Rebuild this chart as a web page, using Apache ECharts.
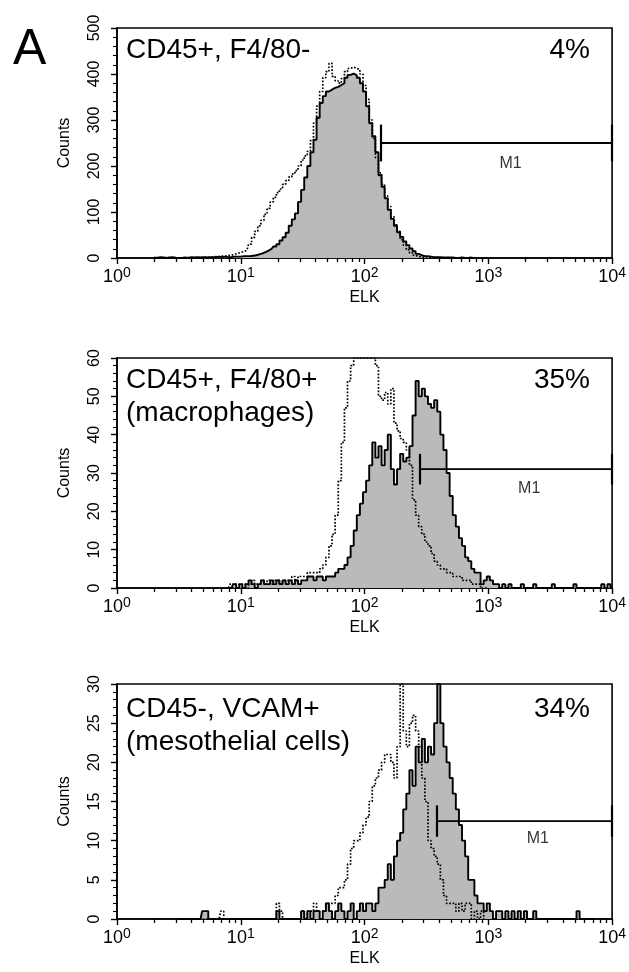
<!DOCTYPE html>
<html>
<head>
<meta charset="utf-8">
<title>ELK histograms</title>
<script src="https://cdn.jsdelivr.net/npm/echarts@6/dist/echarts.min.js"></script>
<style>
	html, body { margin: 0; padding: 0; background: #fff; }
	#chart { width: 629px; height: 972px; }
</style>
</head>
<body>
<div id="chart"></div>
<script>
// histogram bins on the log10(ELK) scale
var binWidth = 0.025;
var binStart = [0.3, 0.9, 0.5];

// panel 1: CD45+, F4/80-
var solid1 = [
	1,0,2,1,0,1,2,0,0,0,1,0,2,1,2,1,2,1,2,2,2,3,2,3,
	2,2,3,3,3,4,4,4,5,6,
	8,10,13,16,20,25,30,38,45,55,
	70,84,97,122,148,175,200,230,257,305,
	337,352,362,366,370,372,376,380,392,398,
	401,397,392,380,362,330,293,265,230,180,
	155,130,105,85,70,56,46,36,28,21,
	15,9,6,4,4,3,2,2,2,1,
	1,1,1,0,0,1,0,0,1,0
];
var dotted1 = [
	0,1,0,0,1,0,0,1,0,0,0,1,0,1,0,1,1,2,1,2,3,3,4,4,
	5,6,8,10,12,14,17,30,45,58,
	70,82,95,108,122,132,142,150,160,168,
	176,183,190,200,213,222,232,255,293,330,
	362,392,405,423,395,385,380,390,405,412,
	415,412,410,400,375,345,300,260,218,185,
	160,135,112,90,72,58,40,28,18,11,
	6,3,2,1,1,1,0,1,0,0
];

// panel 2: CD45+, F4/80+ (macrophages)
var solid2 = [
	0,0,1,0,1,0,1,2,1,0,
	1,2,1,1,2,1,2,1,2,1,
	2,1,2,1,2,2,3,3,2,3,
	3,2,3,3,3,4,5,5,6,8,
	11,15,19,22,25,28,32,38,34,37,
	32,36,40,31,27,31,35,33,34,37,
	45,54,50,52,50,48,47,49,46,40,
	36,30,24,19,16,13,11,8,7,5,
	4,4,1,2,3,2,1,1,0,1,
	0,1,0,0,0,1,0,0,0,1,
	0,0,0,0,0,1,0,0,0,0,
	0,0,1,0,0,0,0,0,0,0,
	0,1,0,1,0
];
var dotted2 = [
	0,1,0,1,0,1,0,1,2,1,
	1,2,1,2,1,2,2,1,2,2,
	2,3,2,3,3,3,4,4,4,4,
	5,6,8,11,14,19,28,38,47,54,
	58,60,60,60,60,60,60,60,58,50,
	49,51,48,52,43,41,39,38,36,32,
	23,19,16,14,12,11,9,7,6,5,
	5,4,4,3,3,3,2,2,2,1,
	1,1,0,0,0
];

// panel 3: CD45-, VCAM+ (mesothelial cells)
var solid3 = [
	0,0,0,0,0,0,0,0,1,1,
	0,0,0,0,0,0,0,0,0,0,
	0,0,0,0,0,0,0,0,0,0,
	0,0,1,0,0,0,0,0,0,0,
	1,0,1,0,1,1,0,1,2,1,
	0,1,2,1,0,1,2,0,1,2,
	1,2,2,1,2,4,4,5,7,5,
	8,10,11,14,16,19,17,22,20,23,
	20,22,21,25,30,25,22,20,18,16,
	14,12,10,8,5,5,3,2,2,1,
	2,1,0,1,1,0,1,0,1,0,
	1,0,1,0,0,1,0,0,0,0,
	0,0,0,0,0,0,0,0,0,1,
	0,0,0,0,0
];
var dotted3 = [
	0,0,0,0,0,0,0,0,0,0,
	0,0,0,0,1,0,0,0,0,0,
	0,0,0,0,0,0,0,0,0,0,
	0,0,2,1,0,0,0,0,0,0,
	1,0,1,1,2,1,1,1,2,2,
	2,3,4,4,5,7,9,10,10,11,
	12,13,15,17,18,19,20,21,21,20,
	18,22,30,24,22,25,26,24,22,18,
	15,10,9,8,7,5,3,2,2,2,
	1,2,1,2,2,0,1,0,1,0
];

var solidData = [solid1, solid2, solid3];
var dottedData = [dotted1, dotted2, dotted3];
var panelTitles = ['CD45+, F4/80-', 'CD45+, F4/80+\n(macrophages)', 'CD45-, VCAM+\n(mesothelial cells)'];
var panelPercent = ['4%', '35%', '34%'];
var countMax = [500, 60, 30];
var countStep = [100, 10, 5];
// M1 gate: start (log10), level (counts), label position
var gateStart = [2.13, 2.45, 2.58];
var gateLevel = [250, 31, 12.5];
var m1LabelX = [3.18, 3.33, 3.40];
var m1LabelY = [205, 26, 10.3];

// layout
var gridTop = [28, 358, 684];
var gridHeight = [230, 230, 235];
var titleTop = [29, 359, 688];
var barHalf = [40, 4, 2];
var font = "'Liberation Sans', Arial, sans-serif";

// minor ticks at 2..9 of each decade
var minorTicks = [];
for (var d = 0; d < 4; d++) {
	for (var k = 2; k <= 9; k++) minorTicks.push(d + Math.log10(k));
}

function hist(start, counts) {
	return counts.map(function (c, i) { return [start + i * binWidth, c]; });
}

var grids = [], xAxes = [], yAxes = [], series = [], titles = [];

titles.push({ text: 'A', left: 8, top: 20, textStyle: { fontSize: 50, fontWeight: 'normal', color: '#000', fontFamily: font } });

for (var p = 0; p < 3; p++) {
	grids.push({
		left: 117, width: 496, top: gridTop[p], height: gridHeight[p],
		show: true, borderColor: '#000', borderWidth: 1.6, backgroundColor: 'transparent'
	});
	xAxes.push({
		type: 'value', gridIndex: p, min: 0, max: 4, interval: 1, position: 'bottom',
		name: 'ELK', nameLocation: 'middle', nameGap: 32,
		nameTextStyle: { fontSize: 16, color: '#000', fontFamily: font },
		axisLine: { show: true, lineStyle: { color: '#000', width: 1.6 } },
		axisTick: { show: true, length: 6, lineStyle: { color: '#000', width: 1.4 } },
		splitLine: { show: false },
		axisLabel: {
			margin: 8, color: '#000',
			formatter: function (v) { return '{b|10}{s|' + v + '}'; },
			rich: {
				b: { fontSize: 18, lineHeight: 22, fontFamily: font, color: '#000' },
				s: { fontSize: 14, lineHeight: 10, verticalAlign: 'top', fontFamily: font, color: '#000' }
			}
		}
	});
	xAxes.push({
		type: 'value', gridIndex: p, min: 0, max: 4, position: 'bottom',
		axisLine: { show: false },
		axisLabel: { show: false },
		splitLine: { show: false },
		axisTick: { show: true, customValues: minorTicks, length: 4, lineStyle: { color: '#000', width: 1.3 } }
	});
	yAxes.push({
		type: 'value', gridIndex: p, min: 0, max: countMax[p], interval: countStep[p],
		name: 'Counts', nameLocation: 'middle', nameRotate: 90, nameGap: 44,
		nameTextStyle: { fontSize: 16, color: '#000', fontFamily: font },
		axisLine: { show: true, lineStyle: { color: '#000', width: 1.6 } },
		axisTick: { show: true, length: 6, lineStyle: { color: '#000', width: 1.4 } },
		minorTick: { show: true, splitNumber: 5, length: 4, lineStyle: { color: '#000', width: 1.1 } },
		splitLine: { show: false },
		axisLabel: { rotate: 90, margin: 14, fontSize: 16, color: '#000', fontFamily: font }
	});

	series.push({
		type: 'line', xAxisIndex: 2 * p, yAxisIndex: p, step: 'middle', symbol: 'none',
		data: hist(binStart[p], solidData[p]),
		lineStyle: { color: '#000', width: 1.9 },
		areaStyle: { color: '#bababa', opacity: 1 },
		z: 2
	});
	series.push({
		type: 'line', xAxisIndex: 2 * p, yAxisIndex: p, step: 'middle', symbol: 'none',
		data: hist(binStart[p], dottedData[p]),
		lineStyle: { color: '#000', width: 1.7, type: [1.7, 1.7] },
		z: 3
	});
	var hb = barHalf[p];
	series.push({
		type: 'line', xAxisIndex: 2 * p, yAxisIndex: p, symbol: 'none',
		data: [[gateStart[p], gateLevel[p]], [4, gateLevel[p]]],
		lineStyle: { color: '#000', width: 1.8 },
		z: 4,
		markLine: {
			silent: true, symbol: ['none', 'none'], label: { show: false },
			lineStyle: { color: '#000', width: 2.2, type: 'solid' },
			data: [
				[{ coord: [gateStart[p], gateLevel[p] - hb] }, { coord: [gateStart[p], gateLevel[p] + hb] }],
				[{ coord: [4, gateLevel[p] - hb] }, { coord: [4, gateLevel[p] + hb] }]
			]
		}
	});
	series.push({
		type: 'scatter', xAxisIndex: 2 * p, yAxisIndex: p, symbolSize: 0,
		data: [[m1LabelX[p], m1LabelY[p]]],
		label: { show: true, position: 'inside', formatter: 'M1', fontSize: 16, color: '#000', fontFamily: font },
		z: 4
	});

	titles.push({
		text: panelTitles[p], left: 121, top: titleTop[p],
		textStyle: { fontSize: 28, lineHeight: 33, fontWeight: 'normal', color: '#000', fontFamily: font }
	});
	titles.push({
		text: panelPercent[p], right: 34, top: titleTop[p],
		textStyle: { fontSize: 28, lineHeight: 33, fontWeight: 'normal', color: '#000', fontFamily: font }
	});
}

var chart = echarts.init(document.getElementById('chart'), null, { renderer: 'canvas' });
chart.setOption({
	animation: false,
	backgroundColor: '#fff',
	title: titles,
	grid: grids,
	xAxis: xAxes,
	yAxis: yAxes,
	series: series
});
</script>
</body>
</html>
